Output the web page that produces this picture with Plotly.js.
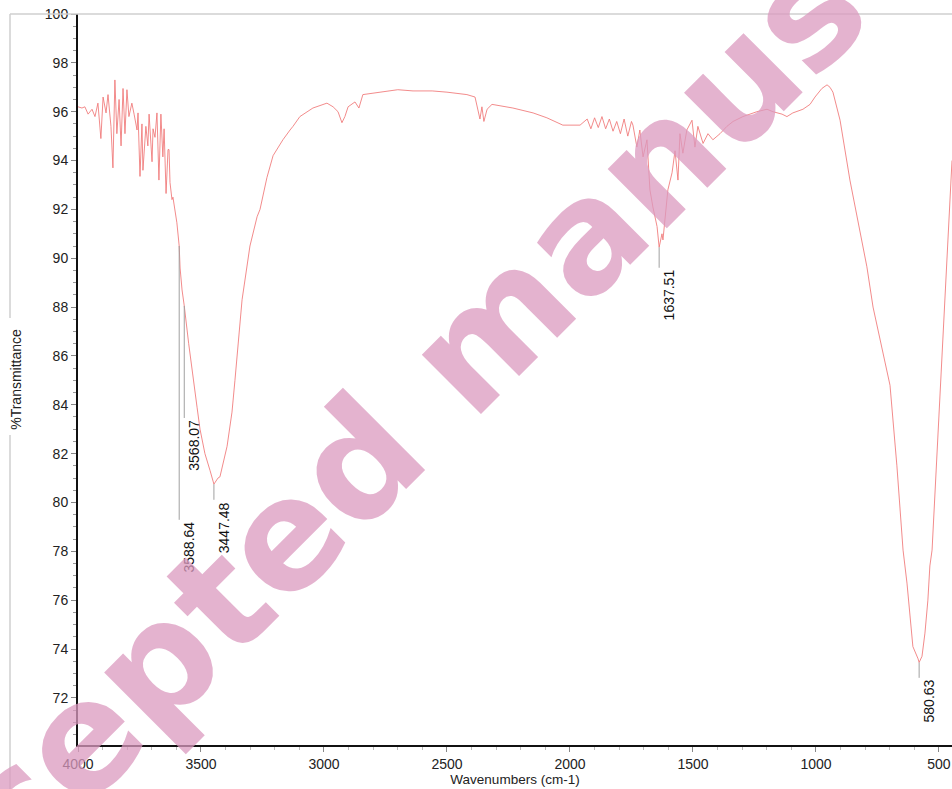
<!DOCTYPE html>
<html>
<head>
<meta charset="utf-8">
<script src="https://cdn.plot.ly/plotly-3.0.1.min.js"></script>
<style>
  html, body { margin: 0; padding: 0; background: #fff; }
  #chart { width: 952px; height: 789px; }
</style>
</head>
<body>
<div id="chart"></div>
<script>
// Wavenumbers (cm-1), descending
const wavenumbers = [
  4000, 3984, 3972, 3959, 3943, 3931, 3919, 3907, 3898, 3886, 3878, 3866, 3858, 3850, 3842, 3833,
  3825, 3817, 3809, 3801, 3793, 3781, 3772, 3760, 3756, 3748, 3740, 3736, 3724, 3716, 3711, 3699,
  3695, 3687, 3679, 3671, 3663, 3655, 3650, 3642, 3634, 3630, 3626, 3618, 3614, 3606, 3598, 3588.64,
  3585, 3577, 3568.07, 3550, 3532, 3516, 3504, 3484, 3463, 3451, 3447.48, 3431, 3423, 3394, 3374, 3362,
  3333, 3301, 3272, 3260, 3232, 3207, 3167, 3138, 3126, 3098, 3045, 2988, 2963, 2943, 2927, 2915,
  2902, 2874, 2858, 2842, 2772, 2700, 2638, 2560, 2500, 2419, 2386, 2366, 2358, 2350, 2337, 2317,
  2232, 2150, 2094, 2029, 1959, 1930, 1915, 1900, 1885, 1870, 1855, 1840, 1825, 1810, 1795, 1780,
  1765, 1750, 1744, 1728, 1716, 1703, 1687, 1675, 1663, 1646, 1637.51, 1626, 1622, 1614, 1602, 1585,
  1573, 1561, 1553, 1541, 1525, 1504, 1492, 1480, 1459, 1439, 1419, 1390, 1362, 1337, 1297, 1240,
  1199, 1175, 1138, 1118, 1094, 1053, 1024, 1004, 976, 955, 943, 931, 902, 862, 821, 793,
  768, 748, 699, 671, 646, 630, 618, 606, 585, 580.63, 569, 557, 545, 537, 528, 484,
  455, 447
];
// %Transmittance
const transmittance = [
  96.2, 96.15, 96.2, 95.9, 96.1, 95.8, 96.35, 94.9, 96.6, 95.95, 96.7, 95.4, 93.7, 97.3, 95.1, 96.5,
  94.6, 96.95, 95.1, 96.9, 95.8, 96.35, 95.9, 95.25, 95.95, 93.35, 95.5, 93.6, 95.4, 94.6, 95.9, 93.95,
  95.3, 94.95, 95.95, 93.2, 95.9, 94.15, 95.3, 92.65, 94.45, 94.45, 93.1, 92.4, 92.5, 92.0, 91.45, 90.5,
  89.6, 88.7, 88.05, 86.5, 85.0, 83.9, 83.0, 82.0, 81.3, 80.9, 80.75, 81.0, 81.05, 82.3, 83.7, 85.0,
  88.3, 90.5, 91.7, 92.0, 93.3, 94.2, 94.85, 95.25, 95.4, 95.8, 96.15, 96.35, 96.2, 96.0, 95.55, 95.8,
  96.2, 96.4, 96.15, 96.7, 96.8, 96.9, 96.85, 96.85, 96.8, 96.7, 96.6, 95.7, 96.2, 95.6, 96.1, 96.3,
  96.15, 95.95, 95.75, 95.45, 95.45, 95.7, 95.3, 95.75, 95.35, 95.8, 95.3, 95.7, 95.2, 95.6, 95.1, 95.7,
  95.0, 95.6, 95.45, 94.55, 95.25, 94.15, 94.85, 92.8, 92.1, 91.3, 90.45, 91.0, 90.75, 91.55, 92.8, 93.5,
  94.4, 93.2, 95.1, 94.3, 95.25, 95.65, 94.55, 95.4, 94.7, 95.1, 94.85, 95.1, 95.4, 95.6, 95.8, 96.0,
  96.1, 96.0, 95.9, 95.8, 95.95, 96.1, 96.3, 96.6, 96.95, 97.1, 97.0, 96.8, 95.65, 93.2, 91.15, 89.65,
  88.0, 87.05, 84.8, 81.5, 78.05, 76.7, 75.35, 74.1, 73.6, 73.45, 73.7, 74.65, 76.0, 77.4, 78.05, 87.05,
  92.8, 94.0
];

// Peak picks
const peakWn = [3588.64, 3568.07, 3447.48, 1637.51, 580.63];
const peakLabels = ['3588.64', '3568.07', '3447.48', '1637.51', '580.63'];
const peakT = [90.5, 88.05, 80.75, 90.45, 73.45];
// where each leader line ends and its label begins (in %T)
const labelT = [79.29, 83.46, 80.11, 89.61, 72.82];

const xTicks = [4000, 3500, 3000, 2500, 2000, 1500, 1000, 500];

const FONT = '"Liberation Sans", Arial, sans-serif';

const trace = {
  x: wavenumbers,
  y: transmittance,
  type: 'scatter',
  mode: 'lines',
  line: { color: 'rgb(240,118,118)', width: 0.85 },
  hoverinfo: 'x+y'
};

const shapes = peakWn.map((w, i) => ({
  type: 'line', xref: 'x', yref: 'y',
  x0: w, x1: w, y0: peakT[i], y1: labelT[i],
  line: { color: '#a0a0a0', width: 1 }
}));
// outer frame lines (light gray)
shapes.push({ type: 'line', xref: 'paper', yref: 'paper', x0: -0.0778, x1: 1.01, y0: 1, y1: 1,
  line: { color: '#cfcfcf', width: 1.5 } });
shapes.push({ type: 'line', xref: 'paper', yref: 'paper', x0: -0.0778, x1: -0.0778, y0: 0.584, y1: 1,
  line: { color: '#cfcfcf', width: 1.5 } });
shapes.push({ type: 'line', xref: 'paper', yref: 'paper', x0: -0.0778, x1: -0.0778, y0: -0.07, y1: 0.424,
  line: { color: '#cfcfcf', width: 1.5 } });

const annotations = peakWn.map((w, i) => ({
  x: w, y: labelT[i], xref: 'x', yref: 'y',
  text: peakLabels[i], showarrow: false, textangle: -90,
  xanchor: 'left', yanchor: 'top',
  font: { family: FONT, size: 14, color: '#111' }
}));
annotations.push({
  xref: 'paper', yref: 'paper', x: 0.4565, y: 0.550,
  xanchor: 'center', yanchor: 'middle',
  text: 'Accepted manuscript', showarrow: false, textangle: -45,
  font: { family: '"DejaVu Sans", sans-serif', size: 153, color: 'rgba(219,154,191,0.75)', weight: 'bold' }
});

const layout = {
  width: 952, height: 789,
  margin: { l: 78, r: 0, t: 14, b: 44 },
  paper_bgcolor: '#fff', plot_bgcolor: '#fff',
  showlegend: false,
  font: { family: FONT, color: '#222' },
  xaxis: {
    range: [4000, 447],
    tickmode: 'array', tickvals: xTicks, ticktext: xTicks.map(String),
    showgrid: false, zeroline: false,
    showline: true, linecolor: '#111', linewidth: 2,
    ticks: 'outside', ticklen: 5, tickcolor: '#888', tickwidth: 1,
    minor: { dtick: 100, tick0: 0, ticks: 'outside', ticklen: 3, tickcolor: '#bbb', showgrid: false },
    tickfont: { family: FONT, size: 14, color: '#222' },
    title: { text: 'Wavenumbers (cm-1)', font: { family: FONT, size: 13.5, color: '#222' }, standoff: 4 }
  },
  yaxis: {
    range: [70.07, 100],
    dtick: 2, tick0: 0,
    showgrid: false, zeroline: false,
    showline: true, linecolor: '#111', linewidth: 2,
    ticks: 'outside', ticklen: 5, tickcolor: '#888', tickwidth: 1,
    minor: { dtick: 0.5, tick0: 0, ticks: 'outside', ticklen: 3, tickcolor: '#999', showgrid: false },
    tickfont: { family: FONT, size: 14, color: '#222' },
    title: { text: '%Transmittance', font: { family: FONT, size: 14, color: '#222' }, standoff: 20 }
  },
  shapes: shapes,
  annotations: annotations
};

Plotly.newPlot('chart', [trace], layout, { displayModeBar: false, staticPlot: true });
</script>
</body>
</html>
